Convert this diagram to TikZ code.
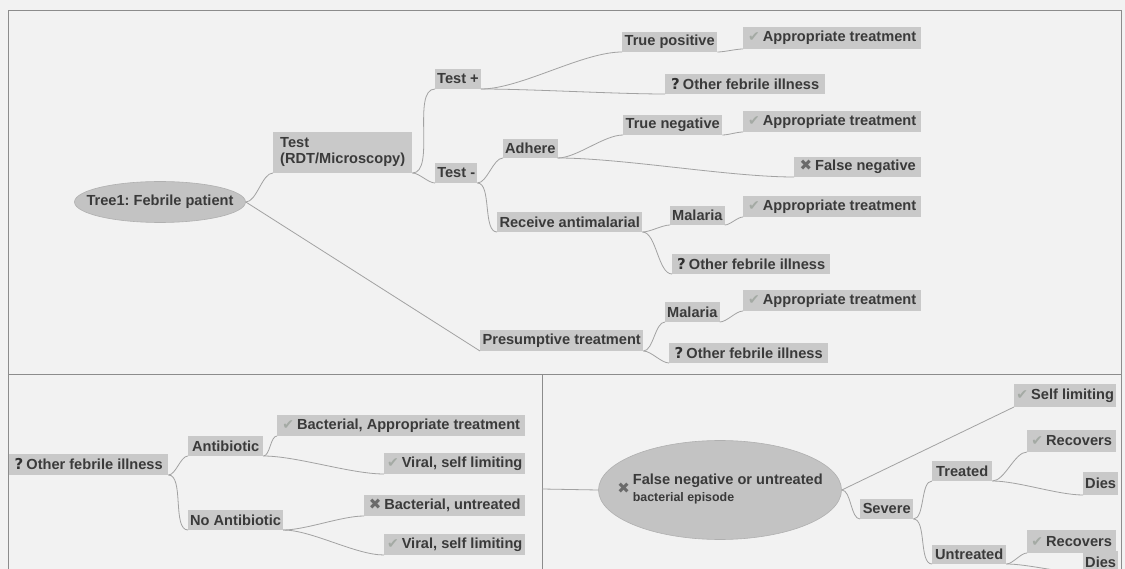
\documentclass[tikz,border=0pt]{standalone}
\usepackage{fontspec}
\setmainfont{Liberation Sans}
\newfontfamily\symf{DejaVu Sans}
\usetikzlibrary{shapes.geometric}
\definecolor{bg}{HTML}{F2F2F2}
\definecolor{boxg}{HTML}{C9C9C9}
\definecolor{ellg}{HTML}{C3C3C3}
\definecolor{ellb}{HTML}{B0B0B0}
\definecolor{txt}{HTML}{3A3A3A}
\definecolor{edgec}{HTML}{A2A2A2}
\definecolor{framec}{HTML}{8C8C8C}
\definecolor{ckc}{HTML}{A4AAA4}
\definecolor{xxc}{HTML}{6A6A6A}
\definecolor{qmc}{HTML}{303030}
\newcommand\ck{{\symf\mdseries\color{ckc}\fontsize{14}{14}\selectfont ✔}\hspace{3pt}}
\newcommand\qm{{\symf\bfseries\color{qmc}\fontsize{15}{15}\selectfont ?}\hspace{3pt}}
\newcommand\xx{{\symf\color{xxc}\fontsize{15}{15}\selectfont ✖}\hspace{3pt}}
\newcommand\bx[7]{\node[bx,anchor=south west,minimum width={(#4-#2)*1pt},minimum height={(#5-#3)*1pt},#6] (#1) at (#2,#5) {#7};}
\begin{document}
\frenchspacing
\begin{tikzpicture}[x=1pt,y=-1pt,
  bx/.style={fill=boxg, inner xsep=2pt, inner ysep=0pt, font=\fontsize{14.6}{16}\selectfont\bfseries, text=txt},
  ell/.style={ellipse, fill=ellg, draw=ellb, line width=0.6pt, inner sep=0pt, font=\fontsize{14.6}{16}\selectfont\bfseries, text=txt},
  con/.style={draw=edgec, line width=0.8pt, looseness=0.7},
  framel/.style={draw=framec, line width=1pt}]
\fill[bg] (0,0) rectangle (1125,569);
\useasboundingbox (0,0) rectangle (1125,569);
% frames
\draw[framel] (8,580) -- (8,11) -- (1121,11) -- (1121,580);
\draw[framel] (8,375) -- (1121,375);
\draw[framel] (542,375) -- (542,580);

% ---------- top panel ----------
\node[ell, minimum width=171pt, minimum height=41pt] (tree1) at (160,202) {\makebox[0pt]{\frenchspacing Tree1: Febrile patient}};
\bx{test}{273}{132}{412}{173}{align=left}{Test\\(RDT/Microscopy)}
\bx{testp}{435}{69}{480}{89}{}{Test +}
\bx{testm}{435}{163}{477}{183}{}{Test -}
\bx{tp}{622}{32}{717}{52}{}{True positive}
\bx{tpA}{743}{27}{921}{49}{}{\ck Appropriate treatment}
\bx{tpO}{665}{74}{825}{94}{}{\qm Other febrile illness}
\bx{adh}{503}{139}{557}{158}{}{Adhere}
\bx{tn}{623}{115}{722}{135}{}{True negative}
\bx{tnA}{743}{111}{921}{132}{}{\ck Appropriate treatment}
\bx{fn}{794}{157}{921}{177}{}{\xx False negative}
\bx{ra}{497}{212}{642}{232}{}{Receive antimalarial}
\bx{raM}{670}{206}{723}{225}{}{Malaria}
\bx{raMA}{743}{196}{921}{217}{}{\ck Appropriate treatment}
\bx{raO}{672}{254}{830}{274}{}{\qm Other febrile illness}
\bx{pt}{480}{330}{643}{351}{}{Presumptive treatment}
\bx{ptM}{665}{302}{715}{322}{}{Malaria}
\bx{ptMA}{743}{290}{921}{311}{}{\ck Appropriate treatment}
\bx{ptO}{669}{343}{828}{363}{}{\qm Other febrile illness}

\draw[con] (tree1.east) to[out=0,in=180] (test.south west);
\draw[con] (tree1.east) -- (pt.south west);
\draw[con] (test.south east) to[out=0,in=180] (testp.south west);
\draw[con] (test.south east) to[out=0,in=180] (testm.south west);
\draw[con] (testp.south east) to[out=0,in=180] (tp.south west);
\draw[con] (testp.south east) to[out=0,in=180] (tpO.south west);
\draw[con] (tp.south east) to[out=0,in=180] (tpA.south west);
\draw[con] (testm.south east) to[out=0,in=180] (adh.south west);
\draw[con] (testm.south east) to[out=0,in=180] (ra.south west);
\draw[con] (adh.south east) to[out=0,in=180] (tn.south west);
\draw[con] (adh.south east) to[out=0,in=180] (fn.south west);
\draw[con] (tn.south east) to[out=0,in=180] (tnA.south west);
\draw[con] (ra.south east) to[out=0,in=180] (raM.south west);
\draw[con] (ra.south east) to[out=0,in=180] (raO.south west);
\draw[con] (raM.south east) to[out=0,in=180] (raMA.south west);
\draw[con] (pt.south east) to[out=0,in=180] (ptM.south west);
\draw[con] (pt.south east) to[out=0,in=180] (ptO.south west);
\draw[con] (ptM.south east) to[out=0,in=180] (ptMA.south west);

% ---------- bottom left panel ----------
\bx{ofi}{9}{454}{168}{475}{}{\qm Other febrile illness}
\bx{ab}{188}{436}{263}{456}{}{Antibiotic}
\bx{nab}{188}{510}{282}{530}{}{No Antibiotic}
\bx{bat}{277}{415}{525}{436}{}{\ck Bacterial, Appropriate treatment}
\bx{vsla}{384}{453}{525}{474}{}{\ck Viral, self limiting}
\bx{bu}{364}{495}{525}{516}{}{\xx Bacterial, untreated}
\bx{vslb}{384}{534}{525}{555}{}{\ck Viral, self limiting}

\draw[con] (ofi.south east) to[out=0,in=180] (ab.south west);
\draw[con] (ofi.south east) to[out=0,in=180] (nab.south west);
\draw[con] (ab.south east) to[out=0,in=180] (bat.south west);
\draw[con] (ab.south east) to[out=0,in=180] (vsla.south west);
\draw[con] (nab.south east) to[out=0,in=180] (bu.south west);
\draw[con] (nab.south east) to[out=0,in=180] (vslb.south west);

% ---------- bottom right panel ----------
\coordinate (entry) at (542,489);
\node[ell, minimum width=243pt, minimum height=99pt] (fnE) at (720,490)
  {\makebox[0pt]{\xx\begin{tabular}{@{}l@{}}False negative or untreated\\[1pt]{\fontsize{12.4}{14}\selectfont bacterial episode}\end{tabular}}};
\bx{sl}{1014}{384}{1116}{407}{}{\ck Self limiting}
\bx{sev}{860}{499}{913}{519}{}{Severe}
\bx{tr}{932}{461}{992}{481}{}{Treated}
\bx{ut}{932}{545}{1006}{564}{}{Untreated}
\bx{reca}{1027}{430}{1116}{452}{}{\ck Recovers}
\bx{diesa}{1083}{472}{1116}{495}{}{Dies}
\bx{recb}{1027}{530}{1116}{553}{}{\ck Recovers}
\bx{diesb}{1083}{551}{1116}{573}{}{Dies}

\draw[con] (entry) -- (fnE.west);
\draw[con] (fnE.east) -- (sl.south west);
\draw[con] (fnE.east) to[out=0,in=180] (sev.south west);
\draw[con] (sev.south east) to[out=0,in=180] (tr.south west);
\draw[con] (sev.south east) to[out=0,in=180] (ut.south west);
\draw[con] (tr.south east) to[out=0,in=180] (reca.south west);
\draw[con] (tr.south east) to[out=0,in=180] (diesa.south west);
\draw[con] (ut.south east) to[out=0,in=180] (recb.south west);
\draw[con] (ut.south east) to[out=0,in=180] (diesb.south west);
\end{tikzpicture}
\end{document}
